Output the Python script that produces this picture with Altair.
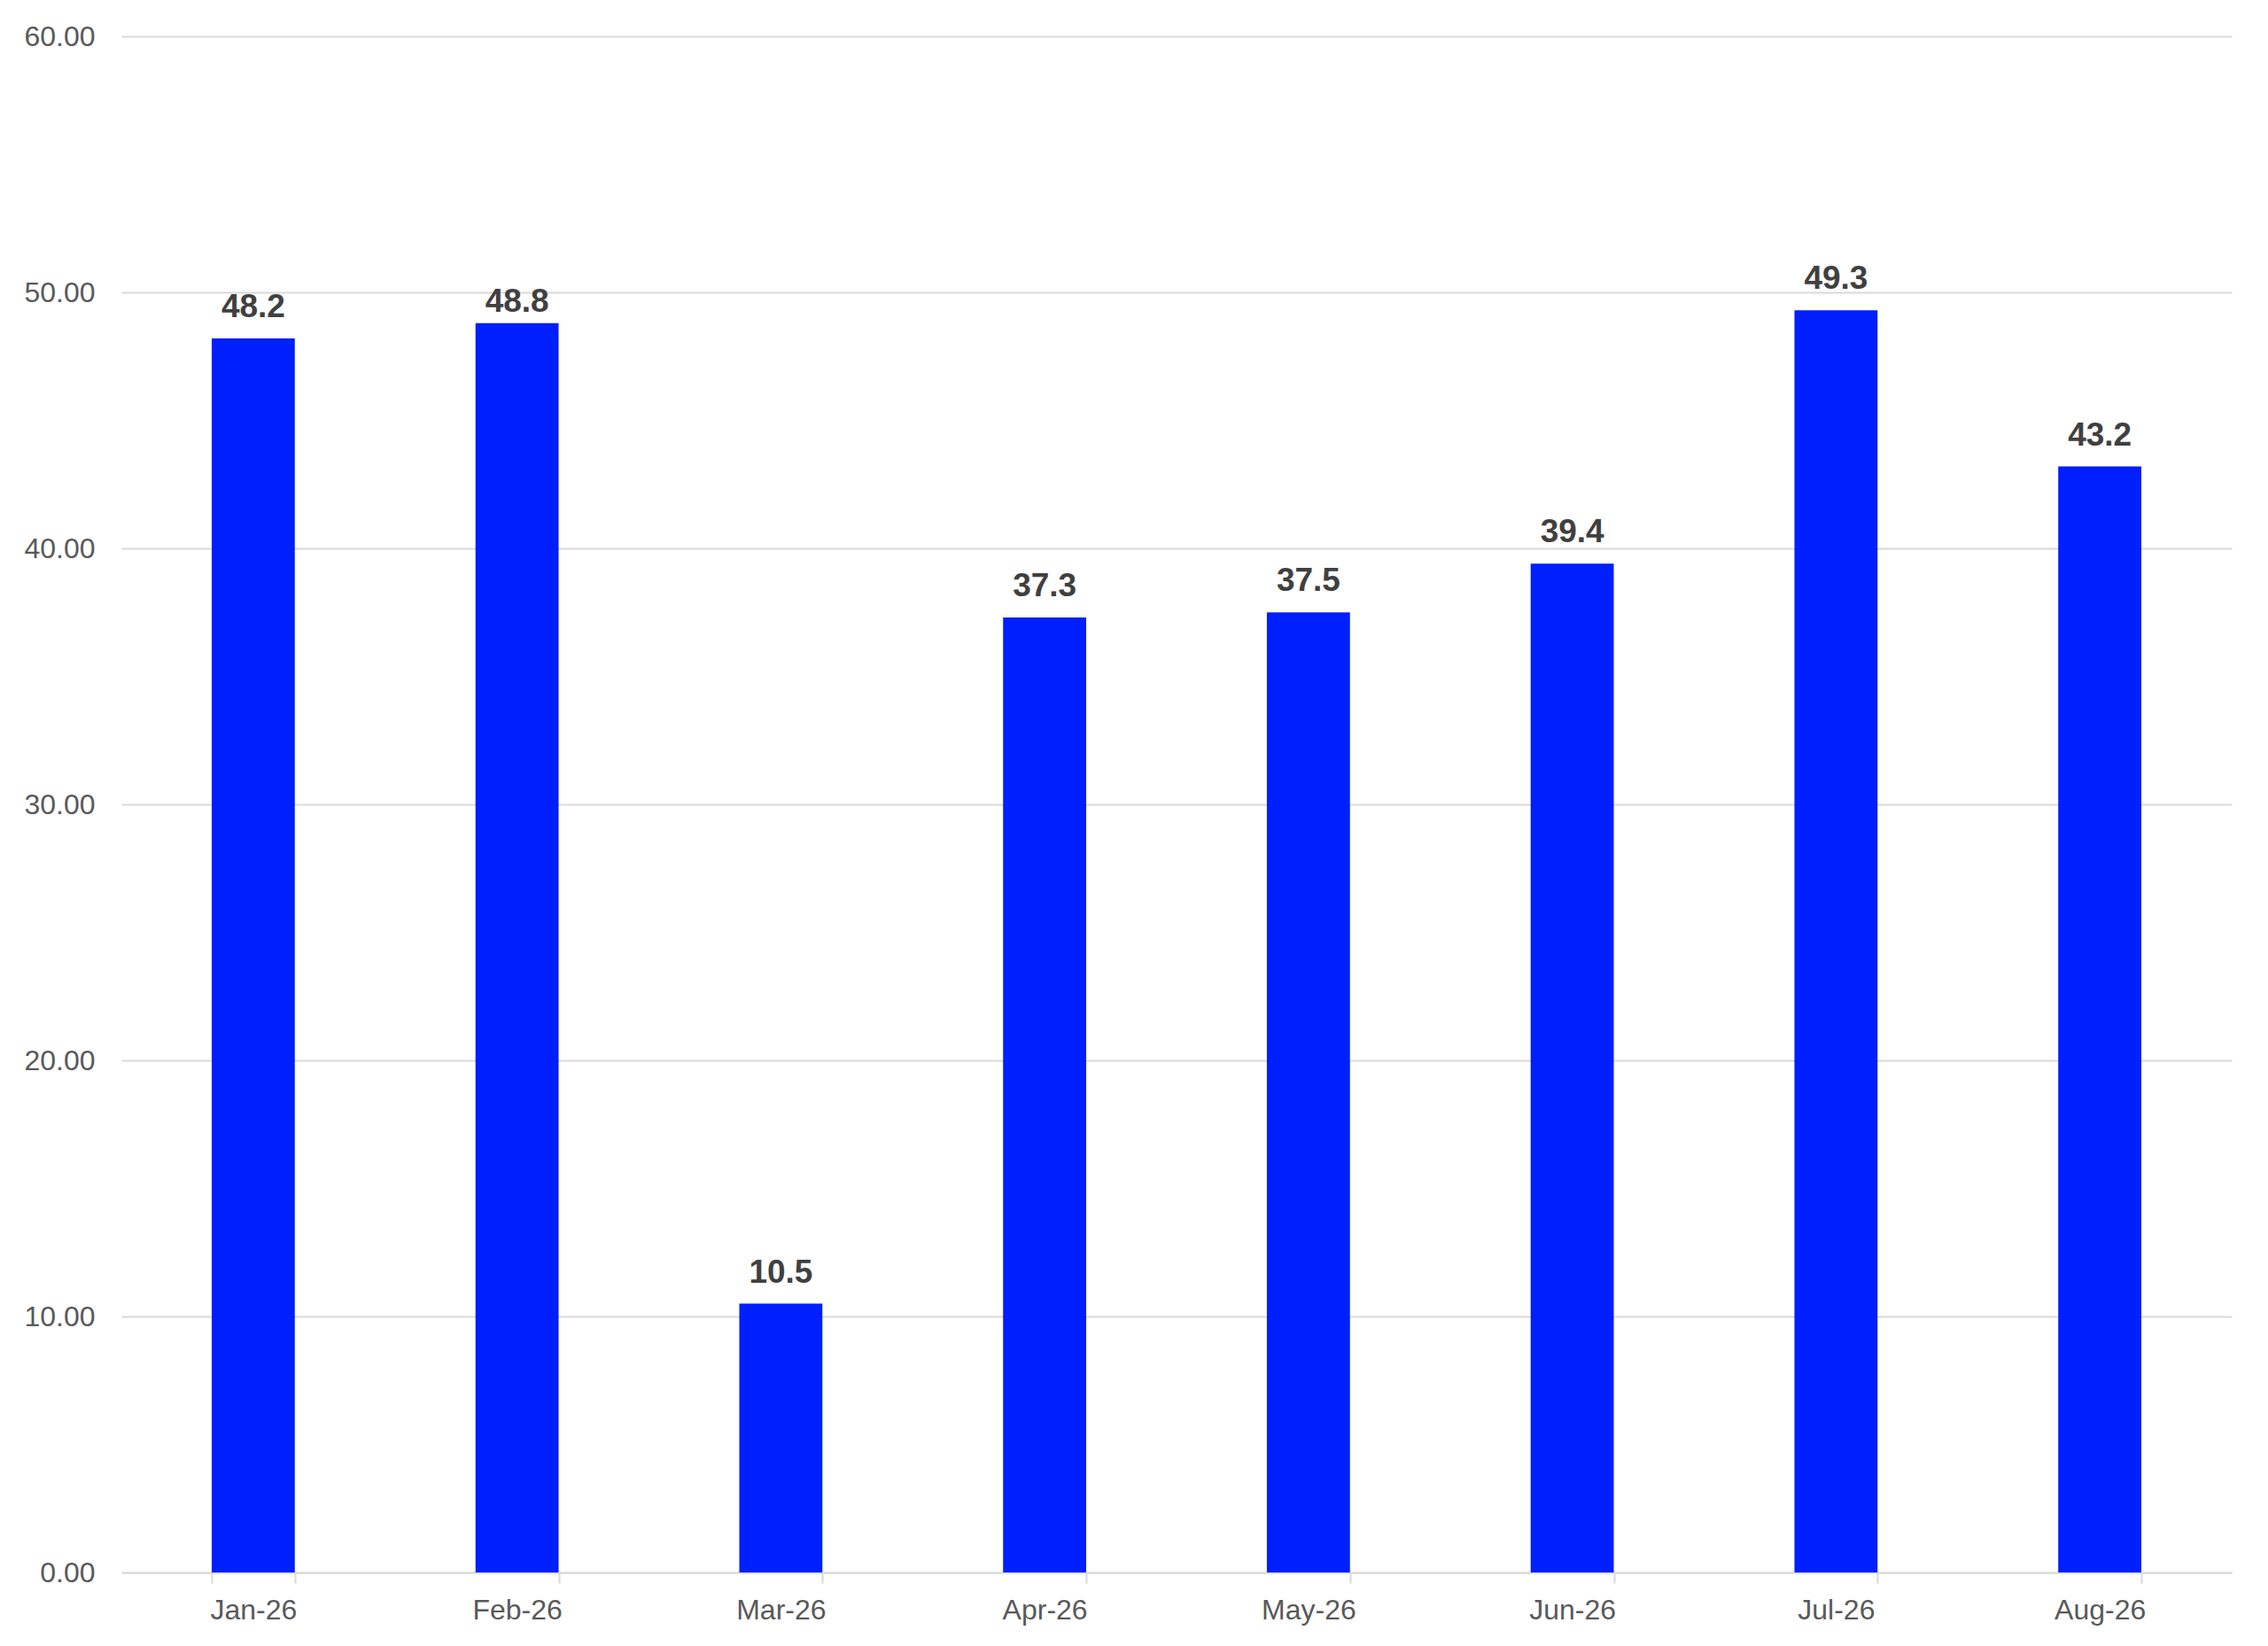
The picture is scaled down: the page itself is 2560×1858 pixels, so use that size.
import altair as alt
import pandas as pd

months = ["Jan-26", "Feb-26", "Mar-26", "Apr-26", "May-26", "Jun-26", "Jul-26", "Aug-26"]
values = [48.2, 48.8, 10.5, 37.3, 37.5, 39.4, 49.3, 43.2]
y_ticks = [0, 10, 20, 30, 40, 50, 60]
low_label_month = "Feb-26"  # label drawn closer to its bar in the original

df = pd.DataFrame({"month": months, "value": values})

FONT = "Liberation Sans"

x = alt.X(
    "month:N",
    sort=months,
    title=None,
    scale=alt.Scale(paddingInner=0.685, paddingOuter=0.3425),
    axis=alt.Axis(
        labelAngle=0,
        labelFont=FONT,
        labelFontSize=32,
        labelColor="#595959",
        labelPadding=15,
        tickBand="extent",
        tickSize=12,
        tickColor="#D9D9D9",
        tickWidth=2,
        domainColor="#D9D9D9",
        domainWidth=2,
        grid=False,
    ),
)
y = alt.Y(
    "value:Q",
    title=None,
    scale=alt.Scale(domain=[0, 60], nice=False),
    axis=alt.Axis(
        values=y_ticks,
        format=".2f",
        labelFont=FONT,
        labelFontSize=32,
        labelColor="#595959",
        labelPadding=30,
        ticks=False,
        domain=False,
        gridColor="#D9D9D9",
        gridWidth=2,
    ),
)

bars = alt.Chart(df).mark_bar(color="#001FFF").encode(x=x, y=y)

label_style = dict(font=FONT, fontSize=37, fontWeight="bold", color="#404040", baseline="alphabetic")
labels = (
    alt.Chart(df)
    .transform_filter(alt.datum.month != low_label_month)
    .mark_text(dy=-24, **label_style)
    .encode(x=x, y=y, text=alt.Text("value:Q", format=".1f"))
)
labels_low = (
    alt.Chart(df)
    .transform_filter(alt.datum.month == low_label_month)
    .mark_text(dy=-13, **label_style)
    .encode(x=x, y=y, text=alt.Text("value:Q", format=".1f"))
)

chart = (
    alt.layer(bars, labels, labels_low)
    .properties(
        width=2382,
        height=1734,
        autosize=alt.AutoSizeParams(type="none"),
        padding={"left": 129, "top": 33, "right": 30, "bottom": 70},
        view=alt.ViewBackground(stroke="transparent", strokeWidth=0),
    )
    .configure(background="white")
)

chart.save("out.html", embed_options={"renderer": "svg", "actions": False})
